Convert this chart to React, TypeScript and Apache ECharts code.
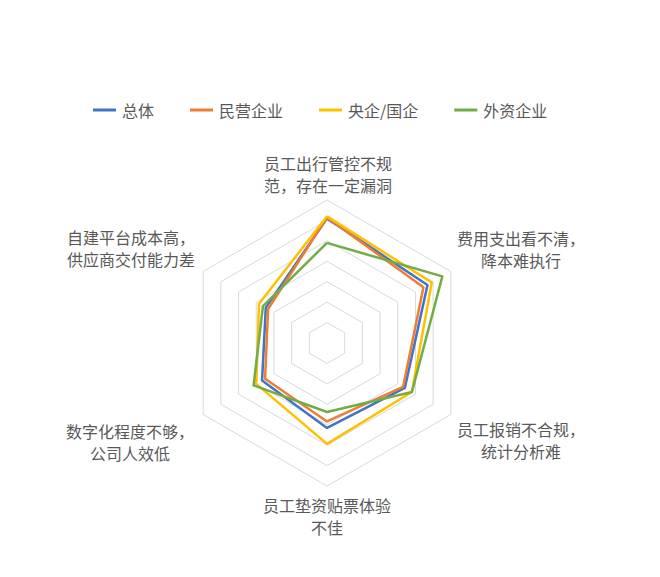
import React, { useEffect, useRef } from "react";
import * as echarts from "echarts";

// Categories in the reference's clockwise order, starting at the top
const categories = [
  "员工出行管控不规\n范，存在一定漏洞",
  "费用支出看不清，\n降本难执行",
  "员工报销不合规，\n统计分析难",
  "员工垫资贴票体验\n不佳",
  "数字化程度不够，\n公司人效低",
  "自建平台成本高，\n供应商交付能力差",
];
const seriesNames = ["总体", "民营企业", "央企/国企", "外资企业"];
const totalValues = [61, 56.8, 44, 41.6, 36.7, 34.6];
const privateValues = [61.5, 54.5, 43, 38.4, 35, 33.3];
const stateValues = [62, 59.2, 48, 49.4, 40, 38.4];
const foreignValues = [49, 65.2, 48, 33.8, 41.5, 36.2];
const axisMax = 70;
const axisSplits = 7;

const colors = ["#4472C4", "#ED7D31", "#FFC000", "#70AD47"];

export default function App() {
  const ref = useRef<HTMLDivElement>(null);
  useEffect(() => {
    if (!ref.current) return;
    const chart = echarts.init(ref.current, undefined, { renderer: "svg" });
    // ECharts lays indicators out counter-clockwise; reorder to draw clockwise
    const order = [0, 5, 4, 3, 2, 1];
    const indicator = order.map((i) => ({ name: categories[i], max: axisMax }));
    const allValues = [totalValues, privateValues, stateValues, foreignValues];
    const cx = 327;
    const cy = 343;
    const R = 143;
    const font = '16px "Noto Sans CJK SC", "Microsoft YaHei", sans-serif';
    // label anchors (centre of two-line block) relative to radar centre
    const labelOffsets = [
      [1, -169],
      [194, -94],
      [194, 97],
      [0, 173],
      [-197, 99],
      [-196, -95],
    ];
    chart.setOption({
      animation: false,
      backgroundColor: "#ffffff",
      color: colors,
      legend: {
        data: seriesNames,
        left: 88,
        top: 97,
        icon: "rect",
        itemWidth: 23,
        itemHeight: 3,
        itemGap: 36,
        textStyle: {
          color: "#595959",
          fontSize: 16,
          fontFamily: '"Noto Sans CJK SC", sans-serif',
          padding: [0, 0, 0, 1],
        },
      },
      radar: {
        center: [cx, cy],
        radius: R,
        startAngle: 90,
        splitNumber: axisSplits,
        shape: "polygon",
        indicator,
        axisName: { show: false },
        axisLine: { show: false },
        axisTick: { show: false },
        axisLabel: { show: false },
        splitArea: { show: false },
        splitLine: { lineStyle: { color: "#D9D9D9", width: 1 } },
      },
      graphic: categories.map((name, i) => ({
        type: "text",
        silent: true,
        style: {
          text: name,
          x: cx + labelOffsets[i][0],
          y: cy + labelOffsets[i][1],
          align: "center",
          verticalAlign: "middle",
          font,
          lineHeight: 22,
          fill: "#595959",
        },
      })),
      series: seriesNames.map((name, s) => ({
        type: "radar",
        name,
        symbol: "none",
        lineStyle: { width: 2.5, color: colors[s] },
        itemStyle: { color: colors[s] },
        data: [{ name, value: order.map((i) => allValues[s][i]) }],
      })),
    });
    return () => chart.dispose();
  }, []);
  return (
    <div
      ref={ref}
      style={{ position: "fixed", left: 0, top: 0, width: 660, height: 577, background: "#fff" }}
    />
  );
}
